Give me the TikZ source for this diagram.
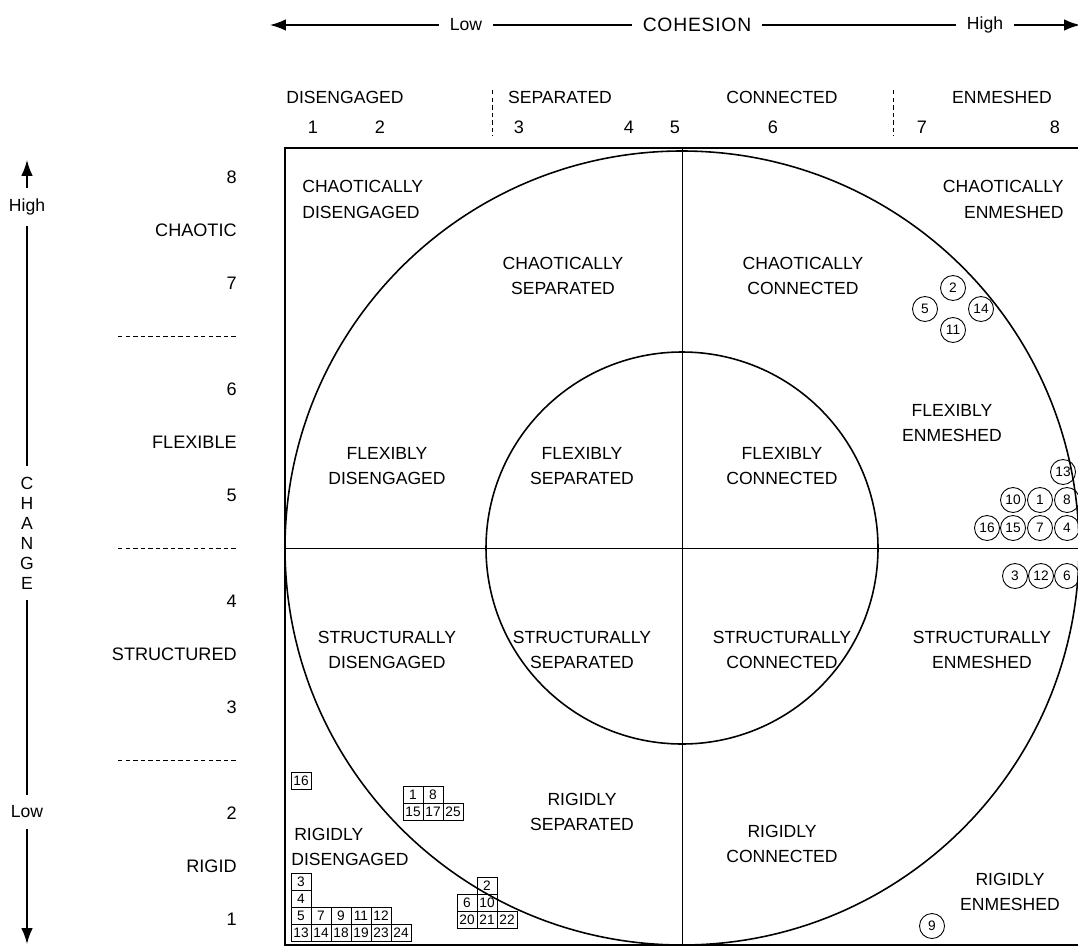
\documentclass[tikz,border=0pt]{standalone}
\usepackage{fontspec}
\setmainfont{Liberation Sans}
\usetikzlibrary{positioning,arrows.meta}

\begin{document}
\begin{tikzpicture}[x=0.02cm,y=-0.02cm,>={Latex[length=9pt,width=6.5pt]},
  lbl/.style={font=\fontsize{10}{14.5}\selectfont,align=center,inner sep=0pt},
  tick/.style={font=\fontsize{10.3}{11}\selectfont,inner sep=0pt},
  axlh/.style={font=\fontsize{10}{11}\selectfont,inner xsep=6pt,inner ysep=0pt},
  axlv/.style={font=\fontsize{10}{11.4}\selectfont,align=center,inner xsep=0pt,inner ysep=6pt},
  cell/.style={draw,line width=0.4pt,minimum width=0.4cm,minimum height=0.34cm,inner sep=0pt,font=\fontsize{7.8}{8}\selectfont},
  fam/.style={draw,circle,line width=0.5pt,minimum size=0.5cm,inner sep=0pt,font=\fontsize{7.8}{8}\selectfont},
  sep/.style={line width=0.5pt,dash pattern=on 2.5pt off 1.8pt}]
\useasboundingbox (0,0) rectangle (1078,946);

% cohesion axis
\coordinate (cohW) at (270,25);
\coordinate (cohE) at (1080,25);
\node[axlh] (cohlow) at (466,25) {Low};
\node[axlh,font=\fontsize{11}{12}\selectfont] (coh) at (697,25) {\addfontfeature{LetterSpace=4}COHESION};
\node[axlh] (cohhigh) at (985,25) {High};
\draw[->,line width=0.8pt] (cohlow) -- (cohW);
\draw[line width=0.8pt] (cohlow) -- (coh);
\draw[line width=0.8pt] (coh) -- (cohhigh);
\draw[->,line width=0.8pt] (cohhigh) -- (cohE);

% change axis
\coordinate (chgN) at (27,160);
\coordinate (chgS) at (27,944);
\node[axlv] (chghigh) at (27,207) {High};
\node[axlv] (chg) at (27,533) {C\\H\\A\\N\\G\\E};
\node[axlv] (chglow) at (27,812) {Low};
\draw[->,line width=0.8pt] (chghigh) -- (chgN);
\draw[line width=0.8pt] (chghigh) -- (chg);
\draw[line width=0.8pt] (chg) -- (chglow);
\draw[->,line width=0.8pt] (chglow) -- (chgS);

% cohesion levels
\node[lbl] (hdis) at (345,97) {DISENGAGED};
\node[lbl] (hsep) at (560,97) {SEPARATED};
\node[lbl] (hcon) at (782,97) {CONNECTED};
\node[lbl] (henm) at (1002,97) {ENMESHED};
\foreach \n/\x in {1/313,2/380,3/519,4/629,5/675,6/773,7/922,8/1055}
  \node[tick] (hx\n) at (\x,127) {\n};
\draw[sep] (492,90) -- (492,136);
\draw[sep] (893,90) -- (893,136);

% change levels
\foreach \t/\k in {8/0,CHAOTIC/1,7/2,6/4,FLEXIBLE/5,5/6,4/8,STRUCTURED/9,3/10,2/12,RIGID/13,1/14}
  \node[tick,anchor=east] (lv\k) at (237,{177+53*\k}) {\t};
\foreach \k in {3,7,11}
  \draw[sep] (118,{177+53*\k}) -- (237,{177+53*\k});

% frame and circles
\draw[line width=0.9pt] (285,148) rectangle (1079,945);
\draw[line width=0.5pt] (682,148) -- (682,945);
\draw[line width=0.5pt] (285,548) -- (1079,548);
\draw[line width=0.9pt] (682,548) circle (397);
\draw[line width=0.9pt] (682,548) circle (196);

% family types
\node[lbl,anchor=north west,align=left] (cd) at (302,180) {CHAOTICALLY\\DISENGAGED};
\node[lbl] (cs) at (563,276) {CHAOTICALLY\\SEPARATED};
\node[lbl] (cc) at (803,276) {CHAOTICALLY\\CONNECTED};
\node[lbl,anchor=north east,align=right] (ce) at (1064,180) {CHAOTICALLY\\ENMESHED};
\node[lbl] (fd) at (387,466) {FLEXIBLY\\DISENGAGED};
\node[lbl] (fs) at (582,466) {FLEXIBLY\\SEPARATED};
\node[lbl] (fc) at (782,466) {FLEXIBLY\\CONNECTED};
\node[lbl] (fe) at (952,423) {FLEXIBLY\\ENMESHED};
\node[lbl] (sd) at (387,650) {STRUCTURALLY\\DISENGAGED};
\node[lbl] (ss) at (582,650) {STRUCTURALLY\\SEPARATED};
\node[lbl] (sc) at (782,650) {STRUCTURALLY\\CONNECTED};
\node[lbl] (se) at (982,650) {STRUCTURALLY\\ENMESHED};
\node[lbl,anchor=west,align=left] (rd) at (291,847) {\,RIGIDLY\\DISENGAGED};
\node[lbl] (rs) at (582,812) {RIGIDLY\\SEPARATED};
\node[lbl] (rc) at (782,844) {RIGIDLY\\CONNECTED};
\node[lbl] (re) at (1010,892) {RIGIDLY\\ENMESHED};

% couples: chaotically enmeshed
\node[fam] (ce2) at (953,288) {2};
\node[fam] (ce5) at (925,309) {5};
\node[fam] (ce14) at (981,309) {14};
\node[fam] (ce11) at (953,330) {11};

% couples: flexibly / structurally enmeshed
\node[fam] (fe13) at (1063,472) {13};
\foreach \n/\x in {10/1013,1/1040,8/1067}
  \node[fam] (fe\n) at (\x,500) {\n};
\foreach \n/\x in {16/987,15/1013,7/1040,4/1067}
  \node[fam] (fe\n) at (\x,528) {\n};
\foreach \n/\x in {3/1015,12/1041,6/1067}
  \node[fam] (se\n) at (\x,576) {\n};

% couples: rigidly enmeshed
\node[fam] (re9) at (932,926) {9};

% couples: rigidly disengaged
\node[cell] (rd16) at (301,781) {16};
\foreach \n/\x in {1/413,8/433}
  \node[cell] (rdb\n) at (\x,795) {\n};
\foreach \n/\x in {15/413,17/433,25/453}
  \node[cell] (rdb\n) at (\x,812) {\n};
\node[cell] (rd3) at (301,882) {3};
\node[cell] (rd4) at (301,899) {4};
\foreach \n/\x in {5/301,7/321,9/341,11/361,12/381}
  \node[cell] (rd\n) at (\x,916) {\n};
\foreach \n/\x in {13/301,14/321,18/341,19/361,23/381,24/401}
  \node[cell] (rd\n) at (\x,933) {\n};

% couples: on the rigid border
\node[cell] (rs2) at (487,886) {2};
\foreach \n/\x in {6/467,10/487}
  \node[cell] (rs\n) at (\x,903) {\n};
\foreach \n/\x in {20/467,21/487,22/507}
  \node[cell] (rs\n) at (\x,920) {\n};
\end{tikzpicture}
\end{document}
